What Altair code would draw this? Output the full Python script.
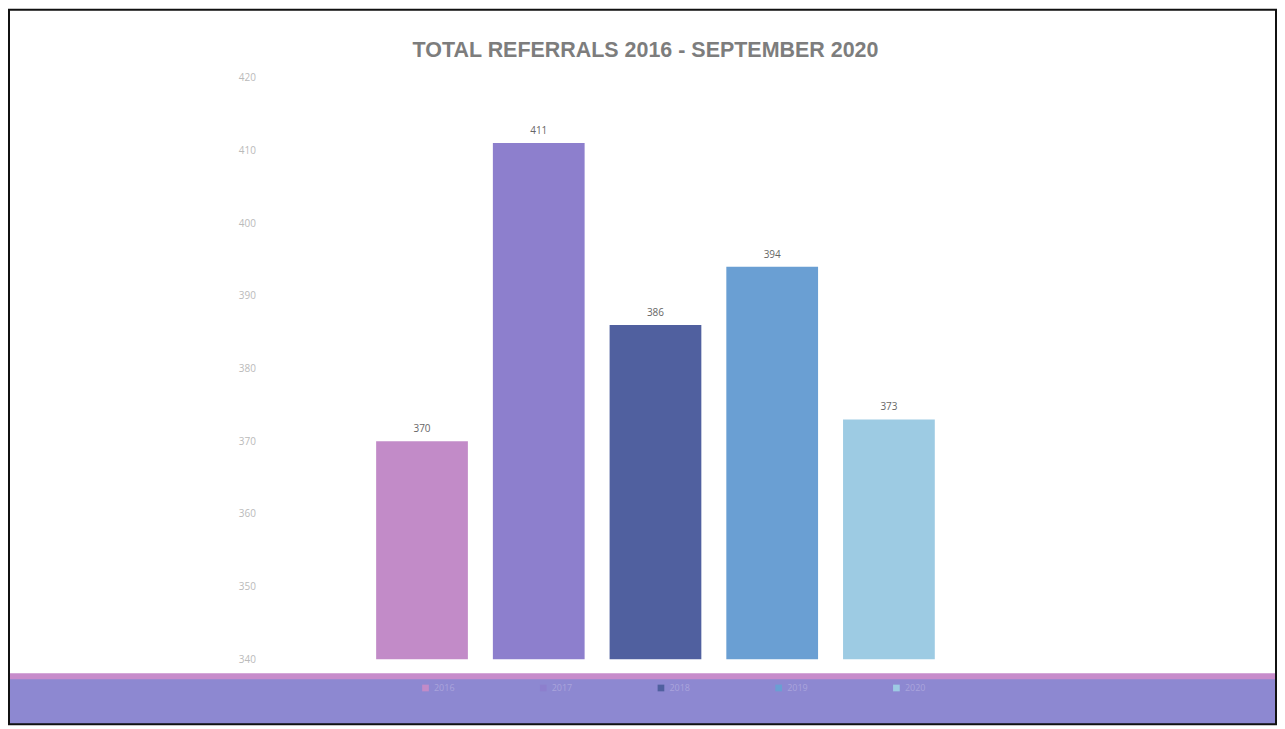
import altair as alt
import pandas as pd

title_text = "TOTAL REFERRALS 2016 - SEPTEMBER 2020"
years = ["2016", "2017", "2018", "2019", "2020"]
values = [370, 411, 386, 394, 373]
colors = ["#c28bc8", "#8d7fcd", "#50609f", "#6a9fd3", "#9dcbe3"]
y_ticks = [340, 350, 360, 370, 380, 390, 400, 410, 420]

df = pd.DataFrame({"year": years, "value": values})
one = pd.DataFrame({"k": [0]})
tdf = pd.DataFrame({"t": [title_text]})

W, H = 790, 583

xs = alt.X("year:N", axis=None,
           scale=alt.Scale(domain=years, paddingInner=0.214, paddingOuter=0.983))
ys = alt.Y("value:Q",
           scale=alt.Scale(domain=[340, 420], zero=False, nice=False),
           axis=alt.Axis(values=y_ticks, title=None, domain=False, ticks=False, grid=False,
                         labelColor="#bababa", labelFontSize=10, labelFont="Open Sans",
                         labelPadding=6, zindex=1))

frame = alt.Chart(one).mark_rect(fill="white", fillOpacity=0, stroke="#111111", strokeWidth=2).encode(
    x=alt.value(-253), x2=alt.value(1017), y=alt.value(-68), y2=alt.value(648))

band = alt.Chart(one).mark_rect(fill="#8d88d1").encode(
    x=alt.value(-253), x2=alt.value(1017), y=alt.value(600), y2=alt.value(648))
stripe = alt.Chart(one).mark_rect(fill="#c78ccb").encode(
    x=alt.value(-253), x2=alt.value(1017), y=alt.value(597), y2=alt.value(603))

title = alt.Chart(tdf).mark_text(fontSize=21.5, color="#7d7d7d", font="Liberation Sans",
                                 fontWeight="bold", align="center", baseline="middle").encode(
    x=alt.value(385), y=alt.value(-27), text="t:N")

bars = alt.Chart(df).mark_bar().encode(
    x=xs, y=ys, y2=alt.datum(340),
    color=alt.Color("year:N", scale=alt.Scale(domain=years, range=colors),
                    legend=alt.Legend(orient="none", legendX=160, legendY=607,
                                      direction="horizontal", title=None,
                                      symbolType="square", symbolSize=45,
                                      symbolStrokeWidth=0,
                                      labelColor="#aaa4dc", labelFontSize=9,
                                      labelFont="Open Sans", columnPadding=84)))

labels = alt.Chart(df).mark_text(dy=-12, fontSize=10, color="#666666", font="Open Sans").encode(
    x=xs, y=alt.Y("value:Q", scale=alt.Scale(domain=[340, 420], zero=False, nice=False)),
    text="value:Q")

chart = alt.layer(band, stripe, bars, labels, title, frame).properties(
    width=W, height=H,
    autosize="none",
    padding={"left": 254, "top": 69, "right": 228, "bottom": 67},
).configure_view(stroke=None)

chart.save("out.html", embed_options={"renderer": "svg", "actions": False})
